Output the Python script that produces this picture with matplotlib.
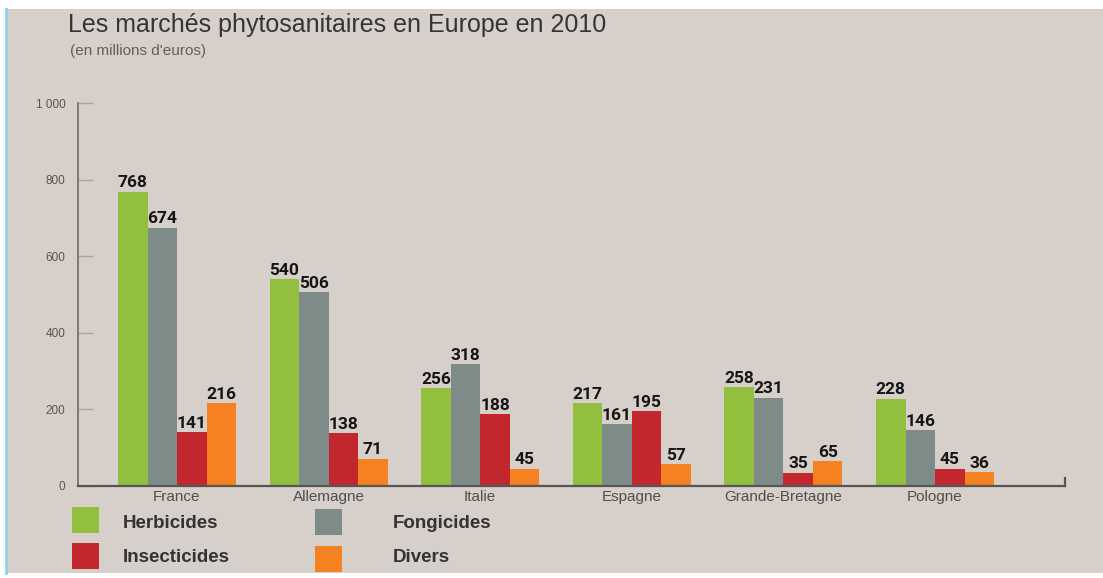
import matplotlib
matplotlib.use("Agg")
import matplotlib.pyplot as plt
from matplotlib.patches import Rectangle
from matplotlib.lines import Line2D
import numpy as np

# ---- data ----
countries = ["France", "Allemagne", "Italie", "Espagne", "Grande-Bretagne", "Pologne"]
series_names = ["Herbicides", "Fongicides", "Insecticides", "Divers"]
herbicides = [768, 540, 256, 217, 258, 228]
fongicides = [674, 506, 318, 161, 231, 146]
insecticides = [141, 138, 188, 195, 35, 45]
divers = [216, 71, 45, 57, 65, 36]
yticks = [0, 200, 400, 600, 800, 1000]
ytick_labels = ["0", "200", "400", "600", "800", "1 000"]

colors = ["#93bf3e", "#7f8b89", "#c1272d", "#f68121"]
series = [herbicides, fongicides, insecticides, divers]

W, H = 1103, 578
fig = plt.figure(figsize=(W / 100, H / 100), dpi=100, facecolor="white")

# background panel + blue left rule
fig.patches.append(Rectangle((7 / W, 5 / H), 1 - 7 / W, 1 - 5 / H - 9 / H,
                             transform=fig.transFigure, facecolor="#d7cfca",
                             edgecolor="none", zorder=-10))
fig.lines.append(Line2D([6 / W, 6 / W], [5 / H, 1 - 9 / H], transform=fig.transFigure,
                        color="#8fd3ea", lw=2, zorder=-5))

def px(x, y):
    return x / W, 1 - y / H

ax_left, ax_right = 78, 1065
y0, y1000 = 486, 103
ax = fig.add_axes([ax_left / W, 1 - y0 / H, (ax_right - ax_left) / W, (y0 - y1000) / H])
ax.set_zorder(5)
ax.patch.set_alpha(0)

spacing = 151.6
first_center = 177
x = np.arange(len(countries))
bw = 29.5 / spacing
offsets = np.array([-1.5, -0.5, 0.5, 1.5]) * bw

label_font = dict(family=["Roboto", "DejaVu Sans"], weight="bold",
                  fontsize=12.5, color="#151515")
for vals, off, col in zip(series, offsets, colors):
    bars = ax.bar(x + off, vals, width=bw, color=col, zorder=2)
    for b, v in zip(bars, vals):
        ax.annotate(str(v), (b.get_x() + b.get_width() / 2, v), xytext=(0, 1),
                    textcoords="offset points", ha="center", va="bottom", **label_font)

ax.set_xlim((ax_left - first_center) / spacing, (ax_right - first_center) / spacing)
ax.set_ylim(0, 1000)
ax.set_yticks(yticks, ytick_labels)
ax.set_xticks(x, countries)

for s in ["top", "right"]:
    ax.spines[s].set_visible(False)
ax.spines["left"].set_color("#6a6a6a")
ax.spines["left"].set_linewidth(1.2)
ax.spines["bottom"].set_color("#555555")
ax.spines["bottom"].set_linewidth(1.6)
ax.axvline(ax.get_xlim()[1], ymin=0, ymax=0.022, color="#555555", lw=1.6, clip_on=False)

ax.tick_params(axis="y", direction="in", length=11, width=1, color="#aaa49f",
               labelsize=8.5, labelcolor="#555555", pad=9)
ax.tick_params(axis="x", length=0, labelsize=11, labelcolor="#4f4f4f", pad=3)
for t in ax.get_xticklabels() + ax.get_yticklabels():
    t.set_family("Liberation Sans")

# titles
fig.text(*px(68, 32), "Les marchés phytosanitaires en Europe en 2010", family="Liberation Sans",
         fontsize=18, color="#353535", va="baseline", ha="left")
fig.text(*px(70, 55), "(en millions d'euros)", family="Liberation Sans",
         fontsize=11, color="#5f5f5f", va="baseline", ha="left")

# legend
leg_pos = [(72, 507), (315, 509), (72, 543), (315, 546)]
text_pos = [(123, 523), (393, 523), (123, 557), (393, 557)]
for name, col, (sx, sy), (tx, ty) in zip(series_names, colors, leg_pos, text_pos):
    fig.patches.append(Rectangle(px(sx, sy + 26), 27 / W, 26 / H, transform=fig.transFigure,
                                 facecolor=col, edgecolor="none", zorder=2))
    fig.text(*px(tx, ty), name, family="Liberation Sans", weight="bold", fontsize=13.5,
             color="#333333", va="center", ha="left")

fig.savefig("out.png", dpi=100, facecolor=fig.get_facecolor())
